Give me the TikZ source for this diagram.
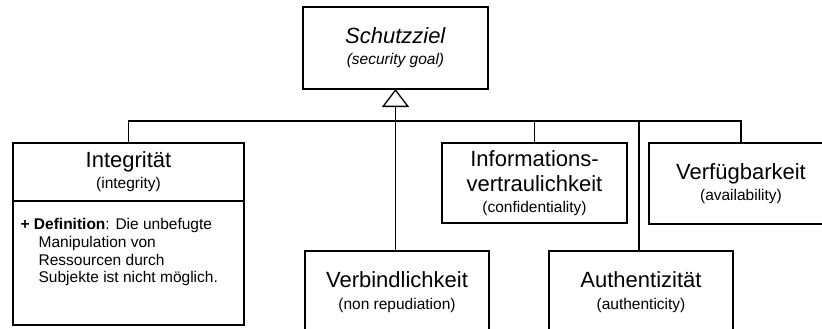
\documentclass[tikz,border=0pt]{standalone}
\usepackage{fontspec}
\setmainfont{Liberation Sans}
\usetikzlibrary{arrows.meta,positioning}
\newcommand{\Titel}[1]{{\fontsize{22}{25}\selectfont #1}}
\newcommand{\Engl}[1]{{\fontsize{15.5}{19}\selectfont #1}}

\begin{document}
\begin{tikzpicture}[x=1pt, y=-1pt,
                    line width=1.3pt,
                    klasse/.style={draw, rectangle, inner sep=0pt, outer sep=0pt,
                                   font=\fontsize{15.5}{21}\selectfont,
                                   align=center, minimum width=184, minimum height=81},
                    erbt/.style={-{Triangle[open, length=18pt, width=27pt]}}]
                \useasboundingbox (0,0) rectangle (822,329);

                \draw(395.5,48) node[klasse, minimum width=185, minimum height=82] (goal)
                {\Titel{\textit{Schutzziel}}\\ \Engl{\textit{(security goal)}}};

                % Integritaet mit Definition
                \draw(128.5,172) node[klasse, minimum width=231, minimum height=58] (integ)
                {\Titel{Integrität}\\ \Engl{(integrity)}};
                \node[klasse, minimum width=231, minimum height=124, below=0pt of integ] (integdef) {};
                \draw(20,218) node[anchor=north west, align=left, inner sep=0pt,
                                   font=\fontsize{15.5}{17.7}\selectfont] (defText)
                {\textbf{+ Definition}: Die unbefugte\\
                 \hspace*{18pt}Manipulation von\\
                 \hspace*{18pt}Ressourcen durch\\
                 \hspace*{18pt}Subjekte ist nicht möglich.};

                \draw(534.5,183) node[klasse, minimum width=185, minimum height=80] (info)
                {\Titel{Informations-}\\[4pt] \Titel{vertraulichkeit}\\ \Engl{(confidentiality)}};
                \draw(741,183.5) node[klasse, minimum height=81] (verf)
                {\Titel{Verfügbarkeit}\\ \Engl{(availability)}};
                \draw(397,292) node[klasse, minimum height=82] (verb)
                {\Titel{Verbindlichkeit}\\[1pt] \Engl{(non repudiation)}};
                \draw(641,292) node[klasse, minimum height=82] (auth)
                {\Titel{Authentizität}\\[1pt] \Engl{(authenticity)}};

                % Generalisierung
                \coordinate (bus) at (395.5,121);
                \draw[erbt] (verb.north -| goal.south) -- (goal.south);
                \draw (integ.north) |- (bus) -| (verf.north);
                \draw (info.north) -- (info.north |- bus);
                \draw ([xshift=-2pt]auth.north) -- ([xshift=-2pt]auth.north |- bus);

            \end{tikzpicture}
\end{document}
